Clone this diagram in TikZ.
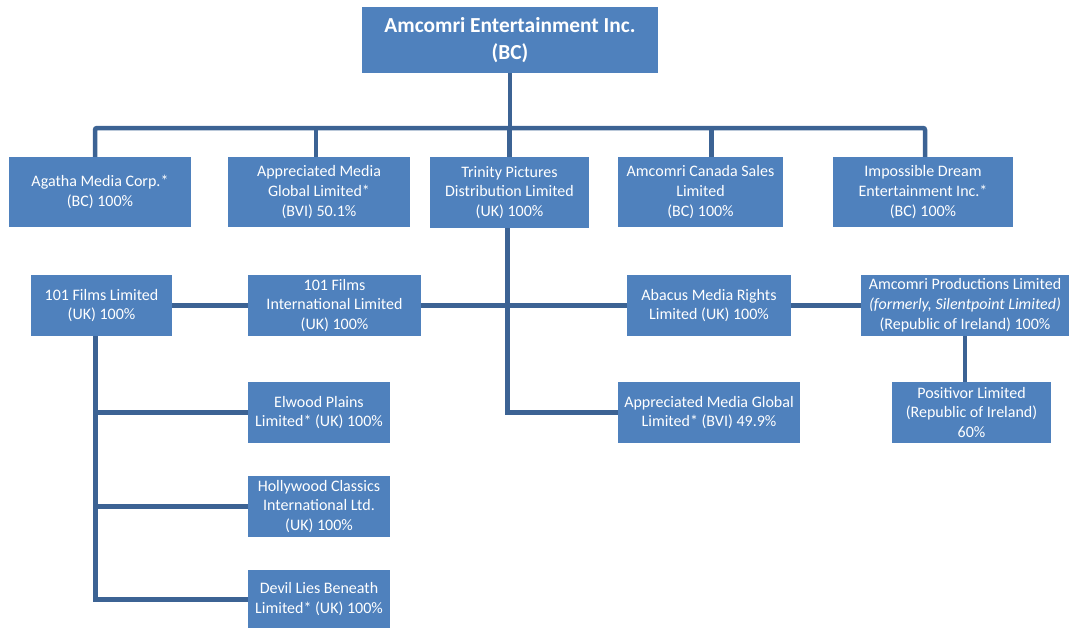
\documentclass[tikz,border=0pt]{standalone}
\usepackage{fontspec}
\setmainfont{Carlito}
\usetikzlibrary{positioning}
\definecolor{cajaazul}{RGB}{79,129,189}
\definecolor{lineaazul}{RGB}{60,99,148}

\begin{document}
\begin{tikzpicture}[
        x=1pt, y=-1pt,
        node distance=32.5pt,
        empresa/.style={fill=cajaazul, text=white, align=center, inner sep=0pt, font=\fontsize{16}{19.8}\selectfont},
        enlace/.style={draw=lineaazul, line width=4.5pt}
    ]
        \useasboundingbox (0,0) rectangle (1069,627);
        % matriz
        \node[empresa, minimum width=296pt, minimum height=66pt, font=\fontsize{21.4}{27}\selectfont\bfseries] (matriz) at (510,40) {Amcomri Entertainment Inc.\\(BC)};
        % primer nivel
        \node[empresa, minimum width=182pt, minimum height=70pt] (agatha) at (100,192) {Agatha Media Corp.*\\(BC) 100\%};
        \node[empresa, minimum width=182pt, minimum height=70pt] (apreciada) at (319,192) {Appreciated Media\\Global Limited*\\(BVI) 50.1\%};
        \node[empresa, minimum width=159pt, minimum height=71pt] (trinity) at (509.5,192.5) {Trinity Pictures\\Distribution Limited\\(UK) 100\%};
        \node[empresa, minimum width=165pt, minimum height=70pt] (canada) at (700.5,192) {Amcomri Canada Sales\\Limited\\(BC) 100\%};
        \node[empresa, minimum width=180pt, minimum height=70pt] (impossible) at (923,192) {Impossible Dream\\Entertainment Inc.*\\(BC) 100\%};
        % segundo nivel
        \node[empresa, minimum width=141pt, minimum height=61pt] (films) at (101.5,305.5) {101 Films Limited\\(UK) 100\%};
        \node[empresa, minimum width=173pt, minimum height=61pt] (filmsint) at (334.5,305.5) {101 Films\\International Limited\\(UK) 100\%};
        \node[empresa, minimum width=164pt, minimum height=61pt] (abacus) at (709,305.5) {Abacus Media Rights\\Limited (UK) 100\%};
        \node[empresa, minimum width=208pt, minimum height=61pt] (producciones) at (965,305.5) {Amcomri Productions Limited\\\textit{(formerly, Silentpoint Limited)}\\(Republic of Ireland) 100\%};
        \node[empresa, minimum width=182pt, minimum height=61pt] (apreciada2) at (709,412.5) {Appreciated Media Global\\Limited* (BVI) 49.9\%};
        \node[empresa, minimum width=159pt, minimum height=61pt] (positivor) at (971.5,412.5) {Positivor Limited\\(Republic of Ireland)\\60\%};
        \node[empresa, minimum width=142pt, minimum height=61pt] (elwood) at (319,412.5) {Elwood Plains\\Limited* (UK) 100\%};
        \node[empresa, minimum width=142pt, minimum height=61pt, below=of elwood] (hollywood) {Hollywood Classics\\International Ltd.\\(UK) 100\%};
        \node[empresa, minimum width=142pt, minimum height=59pt, below=of hollywood] (devil) {Devil Lies Beneath\\Limited* (UK) 100\%};
        % conexiones
        \coordinate (barra) at (510,128);
        \coordinate (tronco) at ([xshift=-6pt]films.south);
        \draw[enlace] (matriz) -- (matriz |- barra);
        \draw[enlace, rounded corners=2pt] ([xshift=-5pt]agatha.north) |- (barra) -| ([xshift=2pt]impossible.north);
        \draw[enlace] ([xshift=-3pt]apreciada.north) -- ([xshift=-3pt]apreciada.north |- barra);
        \draw[enlace] (trinity.north) -- (trinity.north |- barra);
        \draw[enlace] ([xshift=11pt]canada.north) -- ([xshift=11pt]canada.north |- barra);
        \draw[enlace] ([xshift=-2pt]trinity.south) |- (apreciada2.west);
        \draw[enlace] (filmsint.east) -- (abacus.west);
        \draw[enlace] (abacus.east) -- (producciones.west);
        \draw[enlace] (producciones.south) -- (producciones.south |- positivor.north);
        \draw[enlace] (films.east) -- (filmsint.west);
        \draw[enlace] (tronco) |- (devil.west);
        \draw[enlace] (tronco |- elwood.west) -- (elwood.west);
        \draw[enlace] (tronco |- hollywood.west) -- (hollywood.west);
    \end{tikzpicture}
\end{document}
